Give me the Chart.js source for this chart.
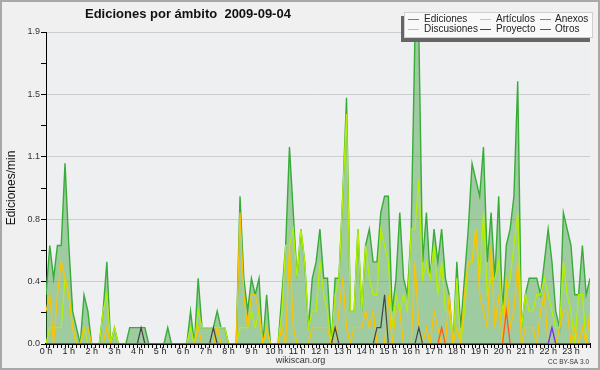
<!DOCTYPE html>
<html>
<head>
<meta charset="utf-8">
<script src="https://cdn.jsdelivr.net/npm/chart.js@4.4.0/dist/chart.umd.min.js"></script>
<style>
  html, body { margin: 0; padding: 0; background: #f0f0f0; }
  #chart { display: block; }
</style>
</head>
<body>
<canvas id="chart" width="600" height="370"></canvas>
<script>
// ediciones por minuto, un punto cada 10 minutos (144 puntos, 0 h - 23:50)
const ediciones = [
  0.3, 0.6, 0.4, 0.6, 0.6, 1.1, 0.6, 0.2, 0.1, 0, 0.3, 0.2,
  0, 0, 0, 0.2, 0.5, 0, 0.1, 0, 0, 0, 0.1, 0.1,
  0.1, 0.1, 0.1, 0, 0, 0, 0, 0, 0.1, 0, 0, 0,
  0, 0, 0.2, 0, 0.4, 0.1, 0.1, 0.1, 0.1, 0.2, 0.1, 0.1,
  0, 0, 0, 0.9, 0.4, 0.2, 0.4, 0.3, 0.4, 0, 0.3, 0,
  0, 0, 0.3, 0.6, 1.2, 0.8, 0.4, 0.7, 0.5, 0.1, 0.4, 0.5,
  0.7, 0.4, 0.4, 0, 0.4, 0.4, 0.9, 1.5, 0.2, 0.2, 0.7, 0.2,
  0.6, 0.7, 0.5, 0.5, 0.8, 0.9, 0.9, 0.2, 0.4, 0.8, 0.4, 0.3,
  0.7, 1.9, 1.9, 0.5, 0.8, 0.4, 0.7, 0.5, 0.7, 0.4, 0.3, 0,
  0.5, 0.1, 0.4, 0.7, 1.1, 1.0, 0.9, 1.2, 0.5, 0.8, 0.4, 0.9,
  0.2, 0.6, 0.7, 0.9, 1.6, 0.1, 0.3, 0.4, 0.4, 0.4, 0.3, 0.5,
  0.7, 0.5, 0.2, 0.1, 0.8, 0.7, 0.6, 0.3, 0.3, 0.6, 0.3, 0.4
];
const articulos = [
  0, 0.1, 0.1, 0.1, 0.1, 0.4, 0.3, 0.1, 0, 0, 0.1, 0,
  0, 0, 0, 0.2, 0.3, 0, 0.1, 0, 0, 0, 0, 0,
  0, 0, 0, 0, 0, 0, 0, 0, 0, 0, 0, 0,
  0, 0, 0.1, 0, 0.2, 0.1, 0.1, 0.1, 0.1, 0.1, 0.1, 0.1,
  0, 0, 0, 0.1, 0.1, 0.1, 0.2, 0.1, 0.2, 0, 0.1, 0,
  0, 0, 0.2, 0.6, 0.6, 0.7, 0.4, 0.7, 0.5, 0.1, 0.2, 0.2,
  0.5, 0.3, 0.2, 0, 0.3, 0.4, 0.9, 1.4, 0.2, 0.2, 0.7, 0.2,
  0.6, 0.4, 0.3, 0.3, 0.7, 0.6, 0.5, 0.1, 0.3, 0.2, 0.3, 0.2,
  0.7, 0.7, 1.0, 0.4, 0.5, 0.4, 0.6, 0.3, 0.5, 0.2, 0.2, 0,
  0.4, 0, 0.2, 0.5, 0.5, 0.7, 0.4, 0.8, 0.3, 0.4, 0.4, 0.5,
  0.2, 0.3, 0.4, 0.6, 0.8, 0.1, 0.3, 0.2, 0.2, 0.3, 0.3, 0.4,
  0.3, 0.2, 0.1, 0.1, 0.5, 0.3, 0.2, 0, 0.3, 0.3, 0, 0.2
];
const anexos = [
  0, 0, 0, 0, 0, 0, 0, 0, 0, 0, 0, 0,
  0, 0, 0, 0, 0, 0, 0, 0, 0, 0, 0, 0,
  0, 0, 0, 0, 0, 0, 0, 0, 0, 0, 0, 0,
  0, 0, 0, 0, 0, 0, 0, 0, 0, 0, 0, 0,
  0, 0, 0, 0, 0, 0, 0, 0, 0, 0, 0, 0,
  0, 0, 0, 0, 0, 0, 0, 0, 0, 0, 0, 0,
  0, 0, 0, 0, 0, 0, 0, 0, 0, 0, 0, 0,
  0, 0, 0, 0, 0, 0, 0, 0, 0, 0, 0, 0,
  0, 0, 0, 0, 0, 0, 0, 0, 0.1, 0, 0, 0,
  0, 0, 0, 0, 0, 0, 0, 0, 0, 0, 0, 0,
  0, 0.2, 0, 0, 0, 0, 0, 0, 0, 0, 0, 0,
  0, 0, 0, 0, 0, 0, 0, 0, 0, 0, 0, 0
];
const discusiones = [
  0.2, 0.3, 0, 0.3, 0.5, 0.4, 0.3, 0.1, 0, 0, 0.1, 0.1,
  0, 0, 0, 0, 0.1, 0, 0, 0, 0, 0, 0, 0,
  0, 0, 0, 0, 0, 0, 0, 0, 0, 0, 0, 0,
  0, 0, 0, 0, 0.1, 0, 0, 0, 0, 0.1, 0, 0,
  0, 0, 0, 0.8, 0.3, 0.1, 0.3, 0.3, 0.2, 0, 0.1, 0,
  0, 0, 0.1, 0, 0.6, 0.1, 0, 0, 0, 0, 0.1, 0.1,
  0.1, 0.1, 0.1, 0, 0, 0.2, 0.4, 0.1, 0, 0.1, 0.1, 0.1,
  0.2, 0.1, 0.2, 0, 0, 0, 0.3, 0, 0.2, 0.2, 0, 0,
  0, 0.5, 0.1, 0, 0.1, 0, 0.2, 0.1, 0, 0, 0.3, 0,
  0.1, 0, 0.3, 0.5, 0.5, 0.7, 0.3, 0.2, 0.1, 0.6, 0.1, 0.3,
  0, 0.4, 0.1, 0.2, 0.5, 0, 0.1, 0.1, 0.1, 0, 0.2, 0.3,
  0, 0, 0, 0.1, 0.2, 0.2, 0, 0.1, 0, 0.1, 0, 0.2
];
const proyecto = [
  0, 0, 0, 0, 0, 0, 0, 0, 0, 0, 0, 0,
  0, 0, 0, 0, 0, 0, 0, 0, 0, 0, 0, 0,
  0, 0.1, 0, 0, 0, 0, 0, 0, 0, 0, 0, 0,
  0, 0, 0, 0, 0, 0, 0, 0, 0.1, 0, 0, 0,
  0, 0, 0, 0, 0, 0, 0, 0, 0, 0, 0, 0,
  0, 0, 0, 0, 0, 0, 0, 0, 0, 0, 0, 0,
  0, 0, 0, 0, 0.1, 0, 0, 0, 0, 0, 0, 0,
  0, 0, 0, 0.1, 0.1, 0.3, 0, 0, 0, 0, 0, 0,
  0, 0, 0.1, 0, 0, 0, 0, 0, 0, 0, 0, 0,
  0, 0, 0, 0, 0, 0, 0, 0, 0, 0, 0, 0,
  0, 0, 0, 0, 0, 0, 0, 0, 0, 0, 0, 0,
  0, 0, 0, 0, 0, 0, 0, 0, 0, 0, 0, 0
];
const otros = [
  0, 0, 0, 0, 0, 0, 0, 0, 0, 0, 0, 0,
  0, 0, 0, 0, 0, 0, 0, 0, 0, 0, 0, 0,
  0, 0, 0, 0, 0, 0, 0, 0, 0, 0, 0, 0,
  0, 0, 0, 0, 0, 0, 0, 0, 0, 0, 0, 0,
  0, 0, 0, 0, 0, 0, 0, 0, 0, 0, 0, 0,
  0, 0, 0, 0, 0, 0, 0, 0, 0, 0, 0, 0,
  0, 0, 0, 0, 0, 0, 0, 0, 0, 0, 0, 0,
  0, 0, 0, 0, 0, 0, 0, 0, 0, 0, 0, 0,
  0, 0, 0, 0, 0, 0, 0, 0, 0, 0, 0, 0,
  0, 0, 0, 0, 0, 0, 0, 0, 0, 0, 0, 0,
  0, 0, 0, 0, 0, 0, 0, 0, 0, 0, 0, 0,
  0, 0.1, 0, 0, 0, 0, 0, 0, 0, 0, 0, 0
];

const hourLabels = [
  "0 h", "1 h", "2 h", "3 h", "4 h", "5 h", "6 h", "7 h", "8 h", "9 h", "10 h", "11 h",
  "12 h", "13 h", "14 h", "15 h", "16 h", "17 h", "18 h", "19 h", "20 h", "21 h", "22 h", "23 h"
];
const yTickLabels = ["0.0", "0.4", "0.8", "1.1", "1.5", "1.9"];
const yMax = 1.9;

const FONT = "'Liberation Sans', Arial, sans-serif";

const toPoints = arr => arr.map((v, i) => ({ x: i, y: v }));

// fondo, borde, título, leyenda y pie
const decor = {
  id: "decor",
  beforeDraw(chart) {
    const { ctx, chartArea } = chart;
    ctx.save();
    ctx.fillStyle = "#f0f0f0";
    ctx.fillRect(0, 0, chart.width, chart.height);
    ctx.fillStyle = "#eeeff1";
    ctx.fillRect(chartArea.left, chartArea.top, chartArea.right - chartArea.left, chartArea.bottom - chartArea.top);
    ctx.restore();
  },
  afterDraw(chart) {
    const ctx = chart.ctx;
    ctx.save();
    // borde exterior
    ctx.strokeStyle = "#a8a8a8";
    ctx.lineWidth = 2;
    ctx.strokeRect(1, 1, chart.width - 2, chart.height - 2);

    // título
    ctx.fillStyle = "#111";
    ctx.font = "bold 13px " + FONT;
    ctx.textBaseline = "alphabetic";
    ctx.textAlign = "left";
    ctx.fillText("Ediciones por ámbito  2009-09-04", 85, 18);

    // leyenda
    ctx.fillStyle = "#666";
    ctx.fillRect(401, 16, 189, 26);
    ctx.fillStyle = "#f9f9f9";
    ctx.fillRect(404, 12, 189, 26);
    ctx.strokeStyle = "#cfcfcf";
    ctx.lineWidth = 1;
    ctx.strokeRect(404.5, 12.5, 188, 25);
    const colX = [408, 480, 540];
    const textX = [424, 496, 555];
    const rowY = [19.5, 29.5];
    ctx.font = "10px " + FONT;
    ctx.textBaseline = "middle";
    chart.data.datasets.forEach((ds, i) => {
      const c = i % 3, r = Math.floor(i / 3);
      ctx.strokeStyle = ds.borderColor;
      ctx.lineWidth = 1;
      ctx.beginPath();
      ctx.moveTo(colX[c], rowY[r]);
      ctx.lineTo(colX[c] + 11, rowY[r]);
      ctx.stroke();
      ctx.fillStyle = "#222";
      ctx.fillText(ds.label, textX[c], rowY[r]);
    });

    // pie
    ctx.textBaseline = "alphabetic";
    ctx.fillStyle = "#333";
    ctx.font = "9px " + FONT;
    ctx.textAlign = "center";
    ctx.fillText("wikiscan.org", 300.5, 363);
    ctx.font = "6.5px " + FONT;
    ctx.textAlign = "right";
    ctx.fillText("CC BY-SA 3.0", 589, 364);
    ctx.restore();
  }
};

const line = (label, data, color, width, order, extra) => Object.assign({
  label: label,
  data: toPoints(data),
  borderColor: color,
  borderWidth: width,
  pointRadius: 0,
  tension: 0,
  fill: false,
  order: order
}, extra || {});

new Chart(document.getElementById("chart"), {
  type: "line",
  data: {
    datasets: [
      line("Ediciones", ediciones, "#38ac38", 1.4, 10, {
        fill: "origin",
        backgroundColor: "rgba(60,160,60,0.45)"
      }),
      line("Artículos", articulos, "#b4f000", 1.3, 5),
      line("Anexos", anexos, "#ff5a1e", 1.3, 2),
      line("Discusiones", discusiones, "#fcc400", 1.3, 4),
      line("Proyecto", proyecto, "#444444", 1.2, 3),
      line("Otros", otros, "#7a2cf0", 1.3, 1)
    ]
  },
  options: {
    responsive: false,
    animation: false,
    devicePixelRatio: 1,
    layout: { padding: { top: 32, right: 10, left: 0, bottom: 0 } },
    plugins: {
      legend: { display: false },
      tooltip: { enabled: false },
      title: { display: false }
    },
    scales: {
      x: {
        type: "linear",
        min: 0,
        max: 143,
        z: 1,
        afterBuildTicks: s => {
          s.ticks = ediciones.map((_, i) => ({ value: i }));
        },
        afterFit: s => { s.height = 26; },
        ticks: {
          autoSkip: false,
          maxRotation: 0,
          padding: -2,
          color: "#222",
          font: { family: FONT, size: 9 },
          callback: v => (v % 6 === 0 ? hourLabels[v / 6] : "")
        },
        grid: { drawOnChartArea: false, drawTicks: true, tickLength: 4, color: "#000", lineWidth: 1 },
        border: { color: "#000", width: 2 }
      },
      y: {
        min: 0,
        max: yMax,
        afterBuildTicks: s => {
          const t = [];
          for (let k = 0; k <= 10; k++) t.push({ value: (yMax / 10) * k });
          s.ticks = t;
        },
        afterFit: s => { s.width = 46; },
        ticks: {
          padding: 1,
          color: "#333",
          font: { family: FONT, size: 9 },
          callback: (v, i) => (i % 2 === 0 ? yTickLabels[i / 2] : "")
        },
        grid: {
          color: c => (c.index % 2 === 0 && c.index > 0 ? "#cdcdcd" : "rgba(0,0,0,0)"),
          tickColor: "#000",
          tickLength: 5,
          lineWidth: 1
        },
        border: { color: "#000", width: 1 },
        title: {
          display: true,
          text: "Ediciones/min",
          color: "#111",
          font: { family: FONT, size: 12 },
          padding: { top: 4, bottom: 0 }
        }
      }
    }
  },
  plugins: [decor]
});
</script>
</body>
</html>
